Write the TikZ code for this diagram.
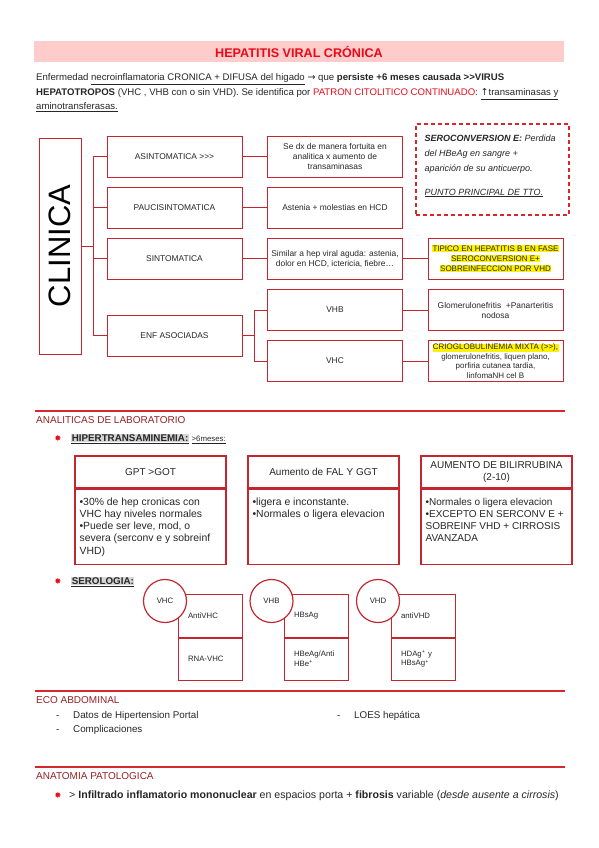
\documentclass[tikz,border=0pt]{standalone}
\usepackage{fontspec}
\setmainfont{Liberation Sans}
\newfontfamily\symfont{DejaVu Sans}
\usetikzlibrary{positioning}

\definecolor{boxred}{RGB}{196,38,48}
\definecolor{titlered}{RGB}{232,10,24}
\definecolor{pinkbar}{RGB}{255,204,204}
\definecolor{headred}{RGB}{150,32,36}
\definecolor{rulered}{RGB}{214,40,44}
\definecolor{txt}{RGB}{38,38,38}
\definecolor{hlgray}{RGB}{214,214,214}

\newcommand{\hl}[1]{{\fboxsep=0.4pt\colorbox{yellow}{#1}}}
\newcommand{\gbox}[1]{{\fboxsep=0.6pt\colorbox{hlgray}{#1}}}

\begin{document}
\begin{tikzpicture}[x=1pt, y=-1pt,
      box/.style={draw=boxred, line width=1pt, minimum width=135pt, minimum height=41pt,
        align=center, inner sep=1pt, text=txt, font=\fontsize{8.4}{10}\selectfont},
      link/.style={draw=boxred, line width=1pt},
      para/.style={anchor=base west, inner sep=0pt, text=txt, font=\fontsize{9.6}{11}\selectfont},
      sechead/.style={anchor=base west, inner sep=0pt, text=headred, font=\fontsize{10}{11}\selectfont},
      rule/.style={draw=rulered, line width=1.1pt},
      bul/.style={text=titlered, inner sep=0pt, font=\symfont\fontsize{8.5}{9}\selectfont},
      item/.style={anchor=base west, inner sep=0pt, text=txt, font=\fontsize{9.8}{11}\selectfont},
      thead/.style={draw=boxred, line width=1.2pt, minimum width=151pt, minimum height=32pt,
        align=center, inner sep=1pt, text=txt, font=\fontsize{10}{12}\selectfont},
      tbody/.style={draw=boxred, line width=1.2pt, minimum width=151pt, minimum height=75pt},
      tlist/.style={anchor=north west, align=left, inner sep=0pt, text=txt,
        font=\fontsize{10.4}{12.2}\selectfont},
      serbox/.style={draw=boxred, line width=1pt, text width=44pt, inner xsep=10pt,
        align=left, text=txt, font=\fontsize{7.8}{9.6}\selectfont},
      serc/.style={circle, draw=boxred, line width=1.2pt, fill=white, minimum size=43pt,
        inner sep=0pt, text=txt, font=\fontsize{7.8}{9}\selectfont}]
    \useasboundingbox (0,0) rectangle (599,848);

    % title and intro
    \node[fill=pinkbar, minimum width=530pt, minimum height=21pt, text=titlered,
      font=\bfseries\fontsize{12.6}{14}\selectfont] (title) at (299,51.5) {HEPATITIS VIRAL CRÓNICA};
    \node[para] (intro1) at (36,81) {Enfermedad \underline{necroinflamatoria CRONICA + DIFUSA del higado} {\symfont →} que \textbf{persiste +6 meses causada >{}>VIRUS}};
    \node[para] (intro2) at (36,95.5) {\textbf{HEPATOTROPOS} (VHC , VHB con o sin VHD). Se identifica por \textcolor{titlered}{PATRON CITOLITICO CONTINUADO}: \underline{{\symfont ↑}transaminasas y}};
    \node[para] (intro3) at (36,110) {\underline{aminotransferasas.}};

    % clinica tree
    \node[draw=boxred, line width=1pt, rotate=90, minimum width=216pt, minimum height=42pt,
      text=black, font=\fontsize{31}{31}\selectfont] (clin) at (60,246) {CLINICA};
    \node[box] (asin) at (174.5,156.5) {ASINTOMATICA >{}>{}>};
    \node[box] (pauci) at (174.5,207.5) {PAUCISINTOMATICA};
    \node[box] (sinto) at (174.5,258.5) {SINTOMATICA};
    \node[box] (enf) at (174.5,335.5) {ENF ASOCIADAS};
    \node[box] (asindx) at (335,156.5) {Se dx de manera fortuita en\\analitica x aumento de\\transaminasas};
    \node[box] (paucidx) at (335,207.5) {Astenia + molestias en HCD};
    \node[box] (sintodx) at (335,258.5) {Similar a hep viral aguda: astenia,\\dolor en HCD, ictericia, fiebre…};
    \node[box] (vhb) at (335,310) {VHB};
    \node[box] (vhc) at (335,361) {VHC};
    \node[box, font=\fontsize{8}{10}\selectfont] (tipico) at (495.5,258.5) {\hl{TIPICO EN HEPATITIS B EN FASE}\\\hl{SEROCONVERSION E+}\\\hl{SOBREINFECCION POR VHD}};
    \node[box] (vhbext) at (495.5,310) {Glomerulonefritis \ +Panarteritis\\nodosa};
    \node[box, font=\fontsize{8}{9.5}\selectfont] (vhcext) at (495.5,361) {\hl{CRIOGLOBULINEMIA MIXTA (>{}>),}\\glomerulonefritis, liquen plano,\\porfiria cutanea tardia,\\linfomaNH cel B};
    \coordinate (trunk) at (93,246);
    \coordinate (fork) at (254,335.5);
    \draw[link] (clin.south) -- (trunk);
    \draw[link] (asin.west) -| (trunk);
    \draw[link] (pauci.west) -| (trunk);
    \draw[link] (sinto.west) -| (trunk);
    \draw[link] (enf.west) -| (trunk);
    \draw[link] (asin) -- (asindx);
    \draw[link] (pauci) -- (paucidx);
    \draw[link] (sinto) -- (sintodx);
    \draw[link] (enf) -- (fork);
    \draw[link] (vhb.west) -| (fork);
    \draw[link] (vhc.west) -| (fork);
    \draw[link] (sintodx) -- (tipico);
    \draw[link] (vhb) -- (vhbext);
    \draw[link] (vhc) -- (vhcext);

    \node[draw=rulered, line width=1.3pt, dash pattern=on 4pt off 3pt, minimum width=153pt,
      minimum height=91pt] (sero) at (492.5,169.5) {};
    \node[anchor=north west, align=left, inner sep=0pt, text=txt,
      font=\itshape\fontsize{9}{15}\selectfont] (serotxt) at ([xshift=9pt,yshift=-11pt]sero.north west)
      {\textbf{SEROCONVERSION E:} Perdida\\del HBeAg en sangre +\\aparición de su anticuerpo.\\[9pt]\underline{PUNTO PRINCIPAL DE TTO.}};

    % analiticas
    \draw[rule] (35,411) -- (565,411);
    \node[sechead] (anal) at (36,423.5) {ANALITICAS DE LABORATORIO};
    \node[bul] (bul1) at (58,438) {✸};
    \node[item] (hiper) at (71,441.5) {\underline{\gbox{\textbf{HIPERTRANSAMINEMIA:}}} \underline{{\fontsize{7.8}{9}\selectfont >6meses:}}};

    \node[thead] (gpt) at (150.5,472) {GPT >GOT};
    \node[tbody, below=0pt of gpt] (gptbody) {};
    \node[tlist] (gptlist) at ([xshift=5pt,yshift=-9pt]gptbody.north west)
      {•30\% de hep cronicas con\\VHC hay niveles normales\\•Puede ser leve, mod, o\\severa (serconv e y sobreinf\\VHD)};
    \node[thead] (fal) at (323.5,472) {Aumento de FAL Y GGT};
    \node[tbody, below=0pt of fal] (falbody) {};
    \node[tlist] (fallist) at ([xshift=5pt,yshift=-9pt]falbody.north west)
      {•ligera e inconstante.\\•Normales o ligera elevacion};
    \node[thead] (bili) at (496.5,472) {AUMENTO DE BILIRRUBINA\\(2-10)};
    \node[tbody, below=0pt of bili] (bilibody) {};
    \node[tlist, font=\fontsize{10}{12.2}\selectfont] (bililist) at ([xshift=5pt,yshift=-9pt]bilibody.north west)
      {•Normales o ligera elevacion\\•EXCEPTO EN SERCONV E +\\SOBREINF VHD + CIRROSIS\\AVANZADA};

    % serologia
    \node[bul] (bul2) at (58,581) {✸};
    \node[item] (serol) at (71,584.5) {\underline{\gbox{\textbf{SEROLOGIA:}}}};
    \node[serbox, minimum height=43pt] (vhc1) at (210,615.5) {AntiVHC};
    \node[serbox, minimum height=42pt, below=0pt of vhc1] (vhc2) {RNA-VHC};
    \node[serc] (vhcc) at (165,601) {VHC};
    \node[serbox, minimum height=43pt] (vhb1) at (316,615.5) {HBsAg};
    \node[serbox, minimum height=42pt, below=0pt of vhb1] (vhb2) {HBeAg/Anti\\HBe\textsuperscript{+}};
    \node[serc] (vhbc) at (271.5,601) {VHB};
    \node[serbox, minimum height=43pt] (vhd1) at (423,615.5) {antiVHD};
    \node[serbox, minimum height=42pt, below=0pt of vhd1] (vhd2) {HDAg\textsuperscript{+} y\\HBsAg\textsuperscript{+}};
    \node[serc] (vhdc) at (378,601) {VHD};

    % eco abdominal
    \draw[rule] (35,691) -- (565,691);
    \node[sechead] (eco) at (36,703) {ECO ABDOMINAL};
    \node[item] (dash1) at (56,718.5) {-};
    \node[item] (datos) at (73,718.5) {Datos de Hipertension Portal};
    \node[item] (dash2) at (56,732.5) {-};
    \node[item] (compl) at (73,732.5) {Complicaciones};
    \node[item] (dash3) at (337,718.5) {-};
    \node[item] (loes) at (354,718.5) {LOES hepática};

    % anatomia patologica
    \draw[rule] (35,767) -- (565,767);
    \node[sechead] (anat) at (36,779) {ANATOMIA PATOLOGICA};
    \node[bul] (bul3) at (58,795) {✸};
    \node[item, font=\fontsize{10.6}{12}\selectfont] (infil) at (69,798.5) {> \textbf{Infiltrado inflamatorio mononuclear} en espacios porta + \textbf{fibrosis} variable (\textit{desde ausente a cirrosis})};
  \end{tikzpicture}
\end{document}
